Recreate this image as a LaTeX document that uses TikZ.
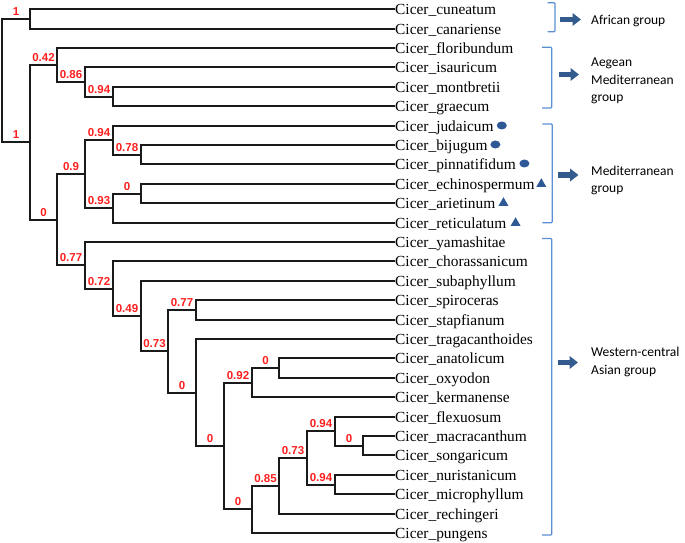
\documentclass[tikz,border=0pt]{standalone}
\usepackage{fontspec}
\setmainfont{Liberation Serif}
\setsansfont{Liberation Sans}
\newfontfamily\grpfont{Carlito}
\usetikzlibrary{arrows.meta,shapes.geometric}
\definecolor{brk}{HTML}{5B8FD3}
\definecolor{arr}{HTML}{345B8E}
\definecolor{mrk}{HTML}{2F5896}
\definecolor{lab}{HTML}{FF1E1E}
\definecolor{edg}{HTML}{1A1A1A}
\newcommand\treept[3]{\coordinate (#1) at ({round(1.8+27.75*#2)},{round(9.3+19.4*#3)});}
\newcommand\leafnode[3]{\node[leaf] (#1) at (395,{round(9.3+19.4*#2)}) {Cicer\_#3};}
\begin{document}
\begin{tikzpicture}[x=1bp,y=-1bp,
  edge/.style={draw=edg,line width=2bp},
  blab/.style={pos=0.75,anchor=south,inner sep=0pt,yshift=2.4bp,text=lab,font=\sffamily\bfseries\fontsize{11.5bp}{13bp}\selectfont},
  leaf/.style={anchor=west,inner sep=0pt,text height=10.2bp,text depth=0pt,font=\fontsize{15.4bp}{18bp}\selectfont},
  dotmark/.style={ellipse,fill=mrk,inner sep=0pt,minimum width=10bp,minimum height=8bp},
  trimark/.style={regular polygon,regular polygon sides=3,fill=mrk,inner sep=0pt,minimum size=11.5bp},
  bracket/.style={draw=brk,line width=1.2bp,rounded corners=1bp},
  grparrow/.style={draw=arr,line width=5.5bp,-{Triangle[length=8.5bp,width=12.5bp]}},
  grp/.style={anchor=west,align=left,inner sep=0pt,font=\grpfont\fontsize{13.5bp}{17.5bp}\selectfont}
]
\useasboundingbox (0,0) rectangle (685,543);
% internal nodes
\treept{root}{0}{3.6817}
\treept{nA}{1}{0.5}
\treept{nB}{1}{6.8634}
\treept{nC}{2}{2.875}
\treept{nD}{3}{3.75}
\treept{nE}{4}{4.5}
\treept{nG}{2}{10.8518}
\treept{nH}{3}{8.5}
\treept{nJ}{4}{6.75}
\treept{nL}{5}{7.5}
\treept{nK}{4}{10.25}
\treept{nM}{5}{9.5}
\treept{nI}{3}{13.2036}
\treept{nN}{4}{14.4072}
\treept{nO}{5}{15.8145}
\treept{nP}{6}{17.6289}
\treept{nQ}{7}{15.5}
\treept{nR}{7}{19.7578}
\treept{nS}{8}{22.5156}
\treept{nT}{9}{19.25}
\treept{nV}{10}{18.5}
\treept{nU}{9}{25.7813}
\treept{nW}{10}{24.5625}
\treept{nX}{11}{23.125}
\treept{nY}{12}{21.75}
\treept{nAA}{13}{22.5}
\treept{nZ}{12}{24.5}
% leaves
\leafnode{cuneatum}{0}{cuneatum}
\leafnode{canariense}{1}{canariense}
\leafnode{floribundum}{2}{floribundum}
\leafnode{isauricum}{3}{isauricum}
\leafnode{montbretii}{4}{montbretii}
\leafnode{graecum}{5}{graecum}
\leafnode{judaicum}{6}{judaicum}
\leafnode{bijugum}{7}{bijugum}
\leafnode{pinnatifidum}{8}{pinnatifidum}
\leafnode{echinospermum}{9}{echinospermum}
\leafnode{arietinum}{10}{arietinum}
\leafnode{reticulatum}{11}{reticulatum}
\leafnode{yamashitae}{12}{yamashitae}
\leafnode{chorassanicum}{13}{chorassanicum}
\leafnode{subaphyllum}{14}{subaphyllum}
\leafnode{spiroceras}{15}{spiroceras}
\leafnode{stapfianum}{16}{stapfianum}
\leafnode{tragacanthoides}{17}{tragacanthoides}
\leafnode{anatolicum}{18}{anatolicum}
\leafnode{oxyodon}{19}{oxyodon}
\leafnode{kermanense}{20}{kermanense}
\leafnode{flexuosum}{21}{flexuosum}
\leafnode{macracanthum}{22}{macracanthum}
\leafnode{songaricum}{23}{songaricum}
\leafnode{nuristanicum}{24}{nuristanicum}
\leafnode{microphyllum}{25}{microphyllum}
\leafnode{rechingeri}{26}{rechingeri}
\leafnode{pungens}{27}{pungens}
% edges
\draw[edge] (root) |- node[blab]{1} (nA);
\draw[edge] (root) |- node[blab]{1} (nB);
\draw[edge] (nA) |- (cuneatum.west);
\draw[edge] (nA) |- (canariense.west);
\draw[edge] (nB) |- node[blab]{0.42} (nC);
\draw[edge] (nB) |- node[blab]{0} (nG);
\draw[edge] (nC) |- (floribundum.west);
\draw[edge] (nC) |- node[blab]{0.86} (nD);
\draw[edge] (nD) |- (isauricum.west);
\draw[edge] (nD) |- node[blab]{0.94} (nE);
\draw[edge] (nE) |- (montbretii.west);
\draw[edge] (nE) |- (graecum.west);
\draw[edge] (nG) |- node[blab]{0.9} (nH);
\draw[edge] (nG) |- node[blab]{0.77} (nI);
\draw[edge] (nH) |- node[blab]{0.94} (nJ);
\draw[edge] (nH) |- node[blab]{0.93} (nK);
\draw[edge] (nJ) |- (judaicum.west);
\draw[edge] (nJ) |- node[blab]{0.78} (nL);
\draw[edge] (nL) |- (bijugum.west);
\draw[edge] (nL) |- (pinnatifidum.west);
\draw[edge] (nK) |- node[blab]{0} (nM);
\draw[edge] (nK) |- (reticulatum.west);
\draw[edge] (nM) |- (echinospermum.west);
\draw[edge] (nM) |- (arietinum.west);
\draw[edge] (nI) |- (yamashitae.west);
\draw[edge] (nI) |- node[blab]{0.72} (nN);
\draw[edge] (nN) |- (chorassanicum.west);
\draw[edge] (nN) |- node[blab]{0.49} (nO);
\draw[edge] (nO) |- (subaphyllum.west);
\draw[edge] (nO) |- node[blab]{0.73} (nP);
\draw[edge] (nP) |- node[blab]{0.77} (nQ);
\draw[edge] (nP) |- node[blab]{0} (nR);
\draw[edge] (nQ) |- (spiroceras.west);
\draw[edge] (nQ) |- (stapfianum.west);
\draw[edge] (nR) |- (tragacanthoides.west);
\draw[edge] (nR) |- node[blab]{0} (nS);
\draw[edge] (nS) |- node[blab]{0.92} (nT);
\draw[edge] (nS) |- node[blab]{0} (nU);
\draw[edge] (nT) |- node[blab]{0} (nV);
\draw[edge] (nT) |- (kermanense.west);
\draw[edge] (nV) |- (anatolicum.west);
\draw[edge] (nV) |- (oxyodon.west);
\draw[edge] (nU) |- node[blab]{0.85} (nW);
\draw[edge] (nU) |- (pungens.west);
\draw[edge] (nW) |- node[blab]{0.73} (nX);
\draw[edge] (nW) |- (rechingeri.west);
\draw[edge] (nX) |- node[blab]{0.94} (nY);
\draw[edge] (nX) |- node[blab]{0.94} (nZ);
\draw[edge] (nY) |- (flexuosum.west);
\draw[edge] (nY) |- node[blab]{0} (nAA);
\draw[edge] (nAA) |- (macracanthum.west);
\draw[edge] (nAA) |- (songaricum.west);
\draw[edge] (nZ) |- (nuristanicum.west);
\draw[edge] (nZ) |- (microphyllum.west);
% markers
\node[dotmark] (mjud) at ([xshift=8bp,yshift=0.5bp]judaicum.east) {};
\node[dotmark] (mbij) at ([xshift=7.6bp,yshift=0.5bp]bijugum.east) {};
\node[dotmark] (mpin) at ([xshift=8.4bp,yshift=0.5bp]pinnatifidum.east) {};
\node[trimark] (mech) at ([xshift=6.5bp]echinospermum.east) {};
\node[trimark] (mari) at ([xshift=8bp]arietinum.east) {};
\node[trimark] (mret) at ([xshift=9bp]reticulatum.east) {};
% brackets
\draw[bracket] (547.7,2.7) -- (555,2.7) -- (555,31.7) -- (547.7,31.7);
\draw[bracket] (542,47.3) -- (551.7,47.3) -- (551.7,108) -- (542,108);
\draw[bracket] (542.3,124) -- (552.3,124) -- (552.3,222.7) -- (542.3,222.7);
\draw[bracket] (542,238.5) -- (551.7,238.5) -- (551.7,535) -- (542,535);
% group labels
\node[grp] (african) at (591,20.6) {African group};
\node[grp] (aegean) at (591,81) {Aegean\\Mediterranean\\group};
\node[grp] (medit) at (591,180.5) {Mediterranean\\group};
\node[grp] (western) at (591,362) {Western-central\\Asian group};
% arrows
\coordinate (a1s) at (560,19.5); \coordinate (a1e) at (581,19.5);
\coordinate (a2s) at (559,74.5); \coordinate (a2e) at (579,74.5);
\coordinate (a3s) at (558,175); \coordinate (a3e) at (578.5,175);
\coordinate (a4s) at (557.7,362.5); \coordinate (a4e) at (578,362.5);
\draw[grparrow] (a1s) -- (a1e);
\draw[grparrow] (a2s) -- (a2e);
\draw[grparrow] (a3s) -- (a3e);
\draw[grparrow] (a4s) -- (a4e);
\end{tikzpicture}
\end{document}
